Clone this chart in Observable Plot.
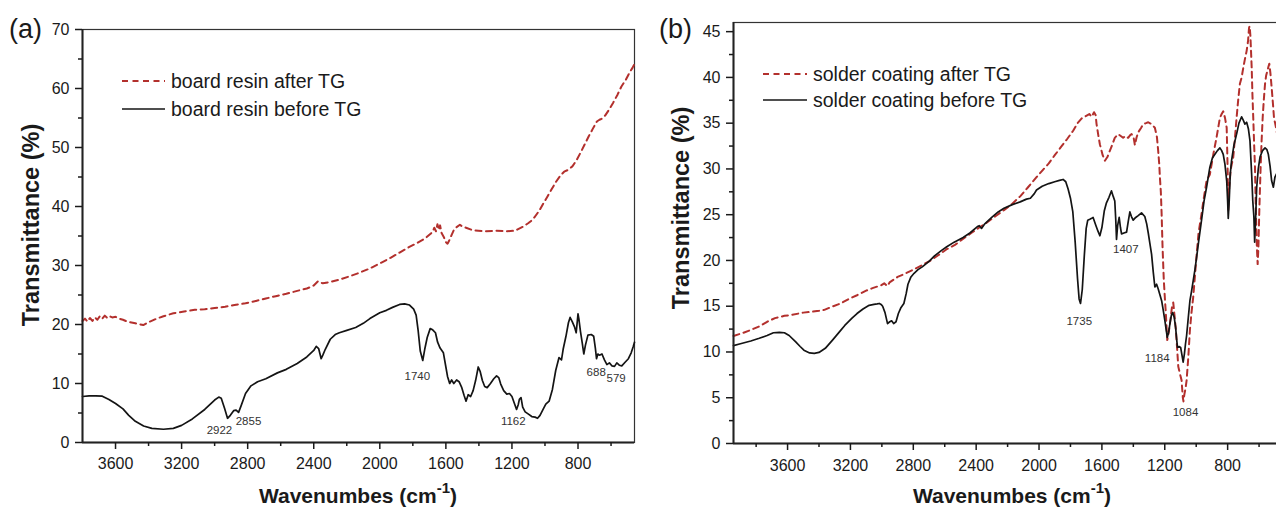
<!DOCTYPE html>
<html>
<head>
<meta charset="utf-8">
<script src="https://cdn.jsdelivr.net/npm/d3@7"></script>
<script src="https://cdn.jsdelivr.net/npm/@observablehq/plot@0.6"></script>
<style>
  html, body { margin: 0; padding: 0; background: #fff; }
  body { width: 1276px; height: 507px; overflow: hidden; position: relative;
         font-family: "Liberation Sans", Arial, sans-serif; color: #1a1a1a; }
  .panel { position: absolute; top: 0; }
  .panel svg { max-width: none !important; }
  .tag { position: absolute; font-size: 27px; line-height: 1; }
  .xt { position: absolute; font-size: 21px; font-weight: bold; white-space: nowrap; transform: translate(-50%, -50%); }
  .xt sup { font-size: 15px; position: relative; top: -2px; }
  .yt { position: absolute; font-size: 23.5px; font-weight: bold; white-space: nowrap; transform: translate(-50%, -50%) rotate(-90deg); }
  .leg { position: absolute; font-size: 19.5px; white-space: nowrap; display: flex; align-items: center; }
  .leg svg { margin-right: 6px; }
</style>
</head>
<body>
<div id="pa" class="panel" style="left:0; width:640px"></div>
<div id="pb" class="panel" style="left:640px; width:656px"></div>
<script>
// ---------- data ----------
const boardBefore = [[3800,7.8],[3760,7.9],[3720,7.9],[3680,7.85],[3640,7.3],[3600,6.6],[3555,5.7],[3520,4.6],[3480,3.6],[3430,2.8],[3380,2.4],[3310,2.25],[3250,2.4],[3200,2.9],[3135,4.0],[3060,5.6],[3000,7.2],[2975,7.7],[2960,7.5],[2940,5.8],[2922,4.1],[2905,4.6],[2885,5.4],[2870,5.5],[2855,5.1],[2840,6.2],[2813,8.3],[2780,9.6],[2740,10.3],[2690,10.8],[2620,11.8],[2566,12.4],[2500,13.4],[2442,14.5],[2400,15.6],[2385,16.3],[2370,15.9],[2355,14.2],[2345,14.8],[2330,15.8],[2300,17.5],[2270,18.3],[2245,18.6],[2200,19.0],[2146,19.5],[2100,20.2],[2060,21.0],[2000,22.0],[1960,22.4],[1923,22.9],[1880,23.4],[1850,23.5],[1820,23.3],[1795,22.6],[1780,21.6],[1768,19.0],[1755,15.5],[1740,13.9],[1728,15.8],[1713,17.8],[1695,19.3],[1680,19.1],[1663,18.6],[1650,17.0],[1635,16.0],[1615,15.2],[1600,12.8],[1590,11.2],[1577,10.0],[1565,10.6],[1552,10.0],[1535,10.6],[1520,10.3],[1505,9.4],[1490,8.0],[1478,7.0],[1465,8.1],[1450,7.8],[1435,8.8],[1420,10.5],[1404,12.8],[1392,12.0],[1379,10.5],[1365,9.5],[1350,9.3],[1330,10.0],[1310,10.8],[1293,11.3],[1280,11.0],[1268,9.9],[1250,8.8],[1231,8.2],[1215,8.3],[1200,7.8],[1185,6.6],[1172,5.6],[1162,6.4],[1155,7.3],[1145,7.6],[1135,6.0],[1120,5.2],[1100,4.8],[1080,4.4],[1060,4.3],[1045,4.1],[1030,4.6],[1010,5.7],[995,6.5],[975,7.0],[955,9.0],[935,12.2],[915,14.4],[900,14.0],[890,15.8],[873,18.0],[858,20.3],[848,21.2],[835,20.5],[820,19.5],[811,18.6],[800,21.8],[795,21.0],[785,18.8],[774,16.8],[765,15.0],[755,16.5],[740,18.2],[720,18.3],[705,18.0],[695,16.0],[688,14.2],[680,15.0],[670,14.8],[655,15.0],[640,14.0],[625,13.2],[610,13.5],[595,13.0],[579,12.9],[565,13.5],[550,13.1],[535,13.0],[515,13.6],[495,14.2],[478,15.2],[465,16.3],[458,17.0]];

const boardAfter = [[3800,20.6],[3785,21.0],[3770,20.5],[3755,21.1],[3740,20.6],[3725,21.2],[3710,20.8],[3695,21.4],[3680,21.0],[3665,21.5],[3650,21.1],[3635,21.4],[3620,21.2],[3600,21.3],[3580,21.0],[3555,20.8],[3530,20.5],[3480,20.2],[3432,19.9],[3400,20.4],[3350,21.0],[3310,21.4],[3250,21.9],[3185,22.2],[3120,22.5],[3060,22.6],[3000,22.8],[2937,23.0],[2880,23.3],[2813,23.6],[2750,24.0],[2690,24.4],[2630,24.8],[2566,25.2],[2500,25.7],[2442,26.1],[2400,26.6],[2375,27.3],[2365,27.1],[2345,27.0],[2300,27.2],[2245,27.6],[2180,28.2],[2121,28.8],[2060,29.5],[1997,30.4],[1935,31.3],[1880,32.2],[1824,33.1],[1775,33.8],[1725,34.6],[1700,35.2],[1680,35.7],[1670,36.4],[1660,35.8],[1651,37.0],[1642,36.0],[1635,36.8],[1626,35.5],[1612,34.8],[1601,34.0],[1590,33.7],[1577,34.4],[1565,35.2],[1552,36.0],[1535,36.5],[1515,36.9],[1500,36.6],[1478,36.4],[1440,36.0],[1404,35.9],[1360,35.8],[1300,35.9],[1230,35.8],[1181,35.9],[1131,36.6],[1100,37.2],[1082,37.6],[1060,38.3],[1032,39.4],[1010,40.5],[983,41.8],[958,43.0],[933,44.2],[905,45.3],[884,45.9],[860,46.2],[834,46.8],[810,47.8],[785,49.1],[760,50.5],[735,51.9],[710,53.2],[686,54.4],[670,54.7],[655,54.9],[636,55.4],[610,56.5],[587,57.6],[560,59.0],[538,60.3],[510,61.5],[488,62.7],[470,63.5],[458,64.2]];

const solderBefore = [[3944,10.7],[3900,10.9],[3834,11.2],[3780,11.5],[3730,11.8],[3690,12.1],[3652,12.15],[3620,12.1],[3590,11.8],[3548,11.1],[3520,10.6],[3496,10.2],[3460,9.9],[3430,9.85],[3400,9.95],[3360,10.4],[3314,11.3],[3270,12.2],[3236,12.9],[3190,13.7],[3158,14.2],[3120,14.7],[3081,15.1],[3050,15.2],[3030,15.25],[3016,15.3],[3005,15.2],[2995,15.0],[2980,14.3],[2964,13.1],[2950,13.3],[2938,13.4],[2925,13.1],[2910,13.3],[2895,14.2],[2880,14.8],[2860,15.3],[2845,16.4],[2834,17.4],[2815,18.2],[2795,18.6],[2770,19.0],[2743,19.3],[2700,19.9],[2665,20.5],[2620,21.1],[2587,21.5],[2540,22.0],[2483,22.5],[2440,23.0],[2392,23.7],[2380,23.8],[2366,23.5],[2345,24.0],[2301,24.7],[2260,25.3],[2223,25.7],[2170,26.1],[2120,26.4],[2080,26.7],[2055,26.8],[2030,27.3],[2016,27.7],[1980,28.1],[1938,28.4],[1900,28.6],[1870,28.75],[1847,28.85],[1830,28.6],[1815,27.8],[1800,26.8],[1785,25.3],[1770,22.0],[1755,18.0],[1745,15.8],[1736,15.3],[1725,16.8],[1712,20.5],[1700,23.5],[1690,24.4],[1677,24.5],[1665,24.6],[1656,24.7],[1640,23.9],[1625,23.2],[1613,22.7],[1600,23.6],[1585,25.4],[1571,26.3],[1555,26.9],[1539,27.6],[1528,27.0],[1518,26.5],[1512,24.5],[1507,22.3],[1500,23.8],[1490,24.7],[1482,23.6],[1475,22.9],[1460,23.0],[1443,23.1],[1432,24.3],[1422,25.3],[1412,24.8],[1401,24.4],[1385,24.7],[1369,24.9],[1348,25.2],[1327,24.8],[1315,24.0],[1305,23.0],[1295,21.9],[1284,20.7],[1273,18.7],[1263,17.1],[1252,17.4],[1242,16.9],[1230,16.2],[1220,15.6],[1210,14.6],[1199,13.4],[1190,12.3],[1184,11.6],[1175,12.2],[1167,13.1],[1158,14.0],[1150,14.3],[1140,13.8],[1131,12.7],[1125,11.5],[1119,10.5],[1109,10.6],[1099,10.5],[1090,9.6],[1083,8.9],[1075,9.8],[1068,10.9],[1061,11.8],[1050,13.8],[1040,15.6],[1030,16.6],[1019,17.8],[1008,19.0],[997,20.4],[985,22.0],[966,24.4],[950,26.5],[934,28.0],[913,30.2],[897,31.2],[881,31.6],[865,32.0],[849,32.3],[838,32.0],[828,31.6],[817,30.5],[806,28.7],[800,26.5],[796,24.6],[790,26.5],[783,29.5],[775,30.9],[760,32.6],[743,33.8],[728,35.0],[711,35.7],[700,35.3],[690,34.9],[679,35.1],[668,34.4],[658,33.1],[647,29.4],[640,26.5],[633,24.8],[628,22.0],[622,24.5],[615,28.0],[605,30.0],[594,31.3],[578,32.0],[562,32.3],[550,32.1],[541,31.6],[530,30.3],[520,28.7],[509,28.0],[499,29.1],[488,29.5],[480,29.8]];

const solderAfter = [[3944,11.75],[3880,12.1],[3834,12.4],[3780,12.8],[3730,13.3],[3680,13.7],[3620,13.95],[3574,14.05],[3500,14.3],[3444,14.4],[3400,14.5],[3366,14.6],[3310,15.0],[3262,15.3],[3210,15.8],[3158,16.2],[3100,16.7],[3055,17.0],[3003,17.3],[2985,17.5],[2965,17.2],[2951,17.6],[2900,18.2],[2847,18.6],[2800,19.0],[2743,19.5],[2690,20.0],[2639,20.6],[2590,21.2],[2535,21.7],[2480,22.4],[2431,23.0],[2380,23.6],[2327,24.2],[2280,24.8],[2223,25.5],[2170,26.2],[2120,27.0],[2070,28.0],[2016,29.1],[1975,29.9],[1938,30.6],[1900,31.5],[1860,32.4],[1820,33.3],[1782,34.2],[1755,35.0],[1730,35.5],[1700,35.8],[1680,36.0],[1665,35.7],[1650,36.2],[1640,35.9],[1634,34.9],[1623,33.7],[1613,32.7],[1595,31.5],[1581,30.9],[1565,31.3],[1549,32.0],[1535,32.6],[1518,33.4],[1496,33.8],[1480,33.6],[1465,33.4],[1450,33.6],[1433,33.4],[1420,33.7],[1411,33.8],[1398,33.4],[1390,32.6],[1380,33.4],[1369,34.0],[1350,34.5],[1337,34.9],[1320,35.0],[1305,35.1],[1285,34.9],[1263,34.5],[1250,33.5],[1242,32.0],[1235,30.5],[1231,29.1],[1225,27.5],[1220,25.1],[1214,21.4],[1206,17.8],[1198,15.5],[1193,14.2],[1188,12.5],[1184,11.3],[1176,12.0],[1167,13.1],[1155,14.8],[1146,15.4],[1138,14.0],[1129,12.35],[1120,10.0],[1114,8.4],[1103,7.6],[1093,6.9],[1085,5.0],[1081,4.6],[1075,5.4],[1068,6.0],[1061,6.9],[1050,9.5],[1040,12.4],[1030,14.3],[1019,16.0],[1008,18.3],[997,20.7],[985,23.0],[966,25.1],[950,27.0],[934,28.7],[913,29.4],[891,31.6],[870,33.5],[849,35.6],[838,36.0],[828,36.3],[817,35.6],[806,34.5],[800,30.0],[796,25.5],[790,28.0],[780,30.0],[764,31.3],[753,33.5],[743,35.6],[733,37.5],[722,39.3],[711,40.0],[700,41.1],[690,42.0],[679,42.9],[670,44.0],[664,45.4],[660,45.6],[655,44.5],[647,41.1],[642,38.0],[637,35.6],[631,32.5],[626,30.2],[620,25.1],[614,21.5],[609,19.6],[604,21.5],[599,25.1],[594,28.0],[590,30.2],[584,33.0],[577,35.6],[570,37.5],[562,39.3],[555,40.2],[547,40.7],[540,41.2],[535,41.5],[528,40.5],[520,38.9],[512,37.2],[505,35.6],[498,35.0],[492,34.5],[485,33.8]];

// peak annotations (label, wavenumber position, transmittance position)
const boardPeakLabels = ["2922","2855","1740","1162","688","579"];
const boardPeakX = [2971,2795,1773,1192,690,569];
const boardPeakY = [2.0,3.6,11.3,3.6,11.9,10.9];
const solderPeakLabels = ["1735","1407","1184","1084"];
const solderPeakX = [1744,1448,1248,1068];
const solderPeakY = [13.3,21.2,9.3,3.4];

// ticks
const xTicksMajor = [3600,3200,2800,2400,2000,1600,1200,800];
const xTicksMinorA = [3400,3000,2600,2200,1800,1400,1000,600];
const xTicksMinorB = [3800,3400,3000,2600,2200,1800,1400,1000,600];
const yTicksA = [0,10,20,30,40,50,60,70];
const yTicksMinorA = [5,15,25,35,45,55,65];
const yTicksB = [0,5,10,15,20,25,30,35,40,45];
const yTicksMinorB = [2.5,7.5,12.5,17.5,22.5,27.5,32.5,37.5,42.5];

const legendA = ["board resin after TG", "board resin before TG"];
const legendB = ["solder coating after TG", "solder coating before TG"];
const xTitle = "Wavenumbes (cm";
const yTitle = "Transmittance (%)";

const RED = "#b3302d", BLACK = "#141414";

function panel({before, after, xDomain, yDomain, yMaj, yMin, xMin, peaksL, peaksX, peaksY, width, mL, mR, mT, mB, xPad}) {
  const lab = peaksL.map((t, i) => ({t, x: peaksX[i], y: peaksY[i]}));
  return Plot.plot({
    width, height: 507,
    marginLeft: mL, marginRight: mR, marginTop: mT, marginBottom: mB,
    x: {domain: xDomain, label: null},
    y: {domain: yDomain, label: null},
    style: {fontFamily: "'Liberation Sans', Arial, sans-serif", fontSize: "16px", color: "#1a1a1a", background: "transparent", overflow: "visible", maxWidth: "none"},
    marks: [
      Plot.frame({stroke: "#333", strokeWidth: 1.2}),
      Plot.line(after, {x: d => d[0], y: d => d[1], stroke: RED, strokeWidth: 2, strokeDasharray: "6,4.5"}),
      Plot.line(before, {x: d => d[0], y: d => d[1], stroke: BLACK, strokeWidth: 1.7}),
      Plot.text(lab, {x: "x", y: "y", text: "t", fontSize: 11.5, fill: "#333"}),
      Plot.ruleY([yDomain[0]], {stroke: "#222", strokeWidth: 2}),
      Plot.ruleX([xDomain[0]], {stroke: "#222", strokeWidth: 2}),
      Plot.axisX(xTicksMajor, {tickSize: 7, tickPadding: xPad, tickFormat: d => String(d), label: null, strokeWidth: 1.5}),
      Plot.axisX(xMin, {tickSize: 4, tickFormat: () => "", label: null, strokeWidth: 1.5}),
      Plot.axisY(yMaj, {tickSize: 7, tickPadding: 6, tickFormat: d => String(d), label: null, strokeWidth: 1.5}),
      Plot.axisY(yMin, {tickSize: 4, tickFormat: () => "", label: null, strokeWidth: 1.5})
    ]
  });
}

document.getElementById("pa").append(panel({
  before: boardBefore, after: boardAfter, xDomain: [3800, 458], yDomain: [0, 70],
  yMaj: yTicksA, yMin: yTicksMinorA, xMin: xTicksMinorA,
  peaksL: boardPeakLabels, peaksX: boardPeakX, peaksY: boardPeakY,
  width: 640, mL: 82, mR: 6, mT: 29, mB: 65, xPad: 8
}));
document.getElementById("pb").append(panel({
  before: solderBefore, after: solderAfter, xDomain: [3944, 400], yDomain: [0, 46],
  yMaj: yTicksB, yMin: yTicksMinorB, xMin: xTicksMinorB,
  peaksL: solderPeakLabels, peaksX: solderPeakX, peaksY: solderPeakY,
  width: 656, mL: 93, mR: 6, mT: 22, mB: 64, xPad: 9
}));

// overlays: panel tags, axis titles, legends
function add(html, cls, style) {
  const d = document.createElement("div");
  d.className = cls; d.innerHTML = html; d.setAttribute("style", style);
  document.body.append(d); return d;
}
add("(a)", "tag", "left:9px; top:16px;");
add("(b)", "tag", "left:659px; top:16px;");
add(xTitle + "<sup>-1</sup>)", "xt", "left:358px; top:494px;");
add(xTitle + "<sup>-1</sup>)", "xt", "left:1012px; top:494px;");
add(yTitle, "yt", "left:31px; top:225px;");
add(yTitle, "yt", "left:681px; top:208px;");

function legendRow(text, dashed, left, top, w) {
  const svg = `<svg width="${w}" height="6"><line x1="0" y1="3" x2="${w}" y2="3" stroke="${dashed ? RED : BLACK}" stroke-width="${dashed ? 2 : 1.7}" ${dashed ? 'stroke-dasharray="6,4.5"' : ''}/></svg>`;
  add(svg + "<span>" + text + "</span>", "leg", `left:${left}px; top:${top - 12}px; height:24px;`);
}
legendRow(legendA[0], true, 122, 81, 43);
legendRow(legendA[1], false, 122, 109, 43);
legendRow(legendB[0], true, 763, 74, 44);
legendRow(legendB[1], false, 763, 100, 44);
</script>
</body>
</html>
